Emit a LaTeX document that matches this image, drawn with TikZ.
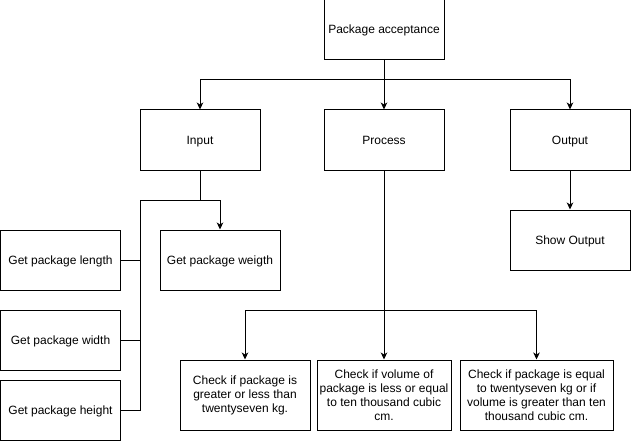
\documentclass[tikz,border=0pt]{standalone}
\usepackage{fontspec}
\setmainfont{Liberation Sans}
\usetikzlibrary{arrows.meta}
\tikzstyle{block} = [rectangle, draw, line width=1pt, minimum width=120pt,
    minimum height=60pt, align=center, inner sep=2pt, font=\fontsize{12}{14}\selectfont]
\tikzstyle{oneline} = [block, text height=10pt, text depth=2pt]
\tikzstyle{line} = [draw, line width=1pt, -{Stealth[length=7pt,width=6.5pt,inset=2pt]}]
\tikzstyle{wire} = [draw, line width=1pt]

\begin{document}
\begin{tikzpicture}[x=1pt, y=-1pt]
    \useasboundingbox (0,0) rectangle (631,441);
    % Place nodes
    \node [oneline] (accept) at (384,30) {Package acceptance};
    \node [oneline] (input) at (200,140) {Input};
    \node [oneline] (process) at (384,140) {Process};
    \node [oneline] (output) at (570,140) {Output};
    \node [oneline] (show) at (570,240) {Show Output};
    \node [oneline] (length) at (60.5,260) {Get package length};
    \node [oneline] (weight) at (220,260) {Get package weigth};
    \node [oneline] (width) at (60.5,340) {Get package width};
    \node [oneline] (height) at (60.5,410) {Get package height};
    \node [block, minimum width=130pt, minimum height=70pt] (checkmass) at (245,395)
        {Check if package is\\greater or less than\\twentyseven kg.};
    \node [block, minimum width=134pt, minimum height=70pt] (checkvol) at (384,395)
        {Check if volume of\\package is less or equal\\to ten thousand cubic\\cm.};
    \node [block, minimum width=153pt, minimum height=70pt] (checkequal) at (536.5,395)
        {Check if package is equal\\to twentyseven kg or if\\volume is greater than ten\\thousand cubic cm.};
    % Junction points
    \coordinate (split) at (384,80);
    \coordinate (fork) at (200,200);
    \coordinate (bus) at (140,410);
    \coordinate (branch) at (384,310);
    % Draw edges
    \path [wire] (accept) -- (split);
    \path [line] (split) -| (input);
    \path [line] (split) -- (process);
    \path [line] (split) -| (output);
    \path [line] (output) -- (show);
    \path [wire] (input) -- (fork);
    \path [line] (fork) -| (weight);
    \path [wire] (fork) -| (bus) -- (height);
    \path [wire] (length) -- (length -| bus);
    \path [wire] (width) -- (width -| bus);
    \path [wire] (process) -- (branch);
    \path [line] (branch) -| (checkmass);
    \path [line] (branch) -- (checkvol);
    \path [line] (branch) -| (checkequal);
\end{tikzpicture}
\end{document}
